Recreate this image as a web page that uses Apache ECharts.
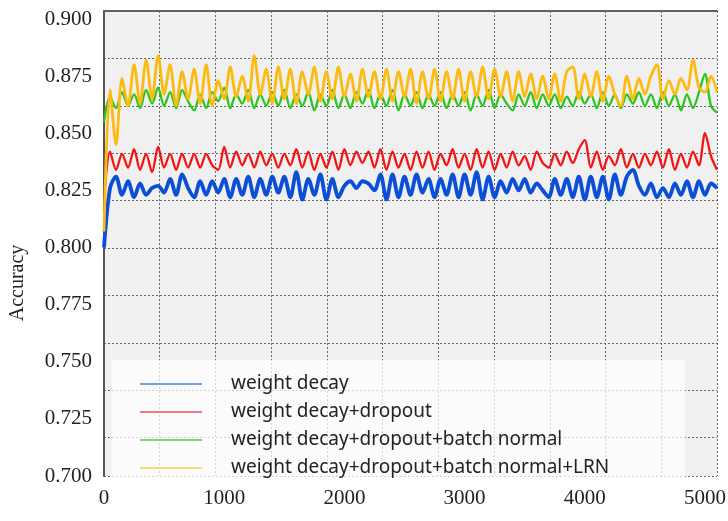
<!DOCTYPE html>
<html>
<head>
<meta charset="utf-8">
<script src="https://cdn.jsdelivr.net/npm/echarts@6/dist/echarts.min.js"></script>
<style>
  html, body { margin: 0; padding: 0; background: #fff; }
  #main { width: 728px; height: 521px; }
</style>
</head>
<body>
<div id="main"></div>
<script>
// iterations, one point every 50
var iters = []
for (var i = 0; i <= 5100; i += 50) iters.push(i)

var xTicks = [0, 1000, 2000, 3000, 4000, 5000]
var yTicks = [0.700, 0.725, 0.750, 0.775, 0.800, 0.825, 0.850, 0.875, 0.900]

var names = [
  'weight decay',
  'weight decay+dropout',
  'weight decay+dropout+batch normal',
  'weight decay+dropout+batch normal+LRN'
]

var wd = [
  0.800, 0.826, 0.831, 0.823, 0.829, 0.822, 0.828, 0.823, 0.826, 0.827, 0.824, 0.830, 0.823, 0.832, 0.826,
  0.822, 0.829, 0.823, 0.829, 0.824, 0.830, 0.822, 0.830, 0.823, 0.831, 0.822, 0.830, 0.823, 0.831,
  0.824, 0.831, 0.822, 0.833, 0.821, 0.830, 0.823, 0.832, 0.821, 0.830, 0.822, 0.827, 0.829, 0.826, 0.829,
  0.828, 0.825, 0.832, 0.821, 0.832, 0.822, 0.831, 0.823, 0.832, 0.824, 0.830, 0.822, 0.830, 0.823, 0.832,
  0.822, 0.832, 0.823, 0.833, 0.821, 0.831, 0.822, 0.829, 0.824, 0.830, 0.825, 0.830, 0.824, 0.828, 0.825,
  0.822, 0.830, 0.823, 0.830, 0.822, 0.831, 0.821, 0.831, 0.822, 0.831, 0.821, 0.832, 0.823, 0.831,
  0.834, 0.827, 0.823, 0.828, 0.822, 0.826, 0.822, 0.828, 0.823, 0.829, 0.822, 0.829, 0.823, 0.828, 0.826
]
var wdDrop = [
  0.822, 0.842, 0.834, 0.841, 0.835, 0.843, 0.834, 0.841, 0.833, 0.844, 0.835, 0.841, 0.834, 0.841, 0.835,
  0.841, 0.835, 0.841, 0.836, 0.834, 0.844, 0.835, 0.842, 0.836, 0.841, 0.835, 0.842, 0.836, 0.841,
  0.835, 0.841, 0.836, 0.843, 0.835, 0.842, 0.834, 0.841, 0.835, 0.842, 0.834, 0.843, 0.836, 0.842, 0.837,
  0.842, 0.835, 0.843, 0.834, 0.842, 0.835, 0.841, 0.834, 0.842, 0.835, 0.842, 0.834, 0.841, 0.836, 0.843,
  0.835, 0.841, 0.834, 0.843, 0.835, 0.842, 0.834, 0.841, 0.835, 0.842, 0.836, 0.840, 0.834, 0.842, 0.837,
  0.835, 0.841, 0.836, 0.842, 0.837, 0.843, 0.847, 0.835, 0.842, 0.834, 0.840, 0.836, 0.843, 0.835,
  0.841, 0.835, 0.841, 0.836, 0.842, 0.835, 0.843, 0.834, 0.841, 0.835, 0.842, 0.836, 0.850, 0.840, 0.834
]
var wdDropBn = [
  0.855, 0.866, 0.861, 0.868, 0.862, 0.867, 0.861, 0.869, 0.863, 0.870, 0.862, 0.868, 0.861, 0.869, 0.864,
  0.860, 0.867, 0.861, 0.868, 0.864, 0.870, 0.861, 0.867, 0.863, 0.869, 0.861, 0.867, 0.862, 0.868,
  0.862, 0.869, 0.861, 0.867, 0.862, 0.868, 0.860, 0.867, 0.862, 0.869, 0.861, 0.867, 0.861, 0.868, 0.863,
  0.869, 0.861, 0.867, 0.862, 0.869, 0.860, 0.867, 0.862, 0.868, 0.861, 0.867, 0.862, 0.868, 0.861, 0.867,
  0.862, 0.868, 0.860, 0.867, 0.862, 0.869, 0.861, 0.867, 0.863, 0.860, 0.867, 0.862, 0.868, 0.861, 0.867,
  0.862, 0.867, 0.861, 0.866, 0.862, 0.868, 0.863, 0.867, 0.861, 0.868, 0.862, 0.867, 0.861, 0.867,
  0.863, 0.868, 0.862, 0.867, 0.861, 0.868, 0.862, 0.867, 0.860, 0.867, 0.861, 0.868, 0.876, 0.862, 0.859
]
var wdDropBnLrn = [
  0.807, 0.869, 0.845, 0.874, 0.862, 0.880, 0.863, 0.882, 0.865, 0.884, 0.867, 0.880, 0.862, 0.877, 0.865,
  0.878, 0.863, 0.880, 0.862, 0.873, 0.865, 0.879, 0.866, 0.875, 0.864, 0.884, 0.867, 0.878, 0.863,
  0.879, 0.865, 0.878, 0.863, 0.877, 0.867, 0.879, 0.864, 0.877, 0.865, 0.879, 0.866, 0.876, 0.864, 0.878,
  0.866, 0.877, 0.865, 0.878, 0.864, 0.877, 0.866, 0.878, 0.863, 0.877, 0.865, 0.878, 0.864, 0.877, 0.865,
  0.878, 0.864, 0.877, 0.866, 0.879, 0.865, 0.878, 0.866, 0.877, 0.864, 0.877, 0.866, 0.876, 0.865, 0.875,
  0.865, 0.876, 0.864, 0.877, 0.879, 0.865, 0.876, 0.866, 0.877, 0.864, 0.875, 0.867, 0.862, 0.875,
  0.865, 0.874, 0.867, 0.875, 0.880, 0.865, 0.873, 0.867, 0.874, 0.869, 0.882, 0.870, 0.868, 0.875, 0.868
]

var lineColors = ['#0b4fd6', '#f41414', '#2ec41e', '#fdbb12']
var legendColors = ['#7c9ee6', '#f27a86', '#86d17c', '#f9dc7a']
var lineWidths = [3.8, 2.3, 2.3, 2.8]

function pairs(vals) {
  return vals.map(function (v, i) { return [iters[i], v] })
}

var chart = echarts.init(document.getElementById('main'))

var serif = 'Liberation Serif'
chart.setOption({
  animation: false,
  grid: {
    left: 104, right: 11, top: 11, bottom: 45,
    show: true,
    backgroundColor: '#f0f0f0',
    borderWidth: 0,
    outerBoundsMode: 'none'
  },
  legend: {
    orient: 'vertical',
    left: 112, top: 360,
    padding: [14, 76, 2, 28],
    backgroundColor: 'rgba(255,255,255,0.72)',
    icon: 'rect',
    itemWidth: 62, itemHeight: 2,
    itemGap: 8,
    textStyle: {
      fontFamily: 'Noto Sans', fontSize: 19, color: '#222',
      lineHeight: 20, padding: [0, 0, 0, 24]
    },
    data: names.map(function (n, i) {
      return { name: n, itemStyle: { color: legendColors[i] } }
    })
  },
  graphic: [{
    type: 'text',
    x: 18, y: 283,
    rotation: Math.PI / 2,
    style: {
      text: 'Accuracy',
      font: '20px "Liberation Serif"',
      fill: '#222',
      align: 'center',
      verticalAlign: 'middle'
    }
  }],
  xAxis: [{
    type: 'value',
    min: 0, max: 5100, interval: 1000,
    axisLine: { lineStyle: { color: '#555', width: 2 } },
    axisTick: { show: false },
    splitLine: { show: false },
    axisLabel: {
      fontFamily: serif, fontSize: 21, color: '#222', margin: 12,
      formatter: function (v) { return xTicks.indexOf(v) >= 0 ? String(v) : '' }
    }
  }, {
    // dotted grid, 11 columns
    type: 'value', position: 'top',
    min: 0, max: 11, interval: 1,
    axisLine: { show: true, lineStyle: { color: '#666', width: 1.5 } },
    axisTick: { show: false }, axisLabel: { show: false },
    splitLine: { lineStyle: { color: '#666', type: [2, 2], width: 1 } }
  }],
  yAxis: [{
    type: 'value',
    min: 0.7, max: 0.9035, interval: 0.025,
    axisLine: { show: true, lineStyle: { color: '#555', width: 2 } },
    axisTick: { show: false },
    splitLine: { show: false },
    axisLabel: {
      fontFamily: serif, fontSize: 21, color: '#222', margin: 12,
      formatter: function (v) {
        for (var k = 0; k < yTicks.length; k++) {
          if (Math.abs(yTicks[k] - v) < 1e-6) return yTicks[k].toFixed(3)
        }
        return ''
      }
    }
  }, {
    // dotted grid rows from the top
    type: 'value', inverse: true,
    min: 0, max: 9.81, interval: 1,
    axisLine: { show: false }, axisTick: { show: false }, axisLabel: { show: false },
    splitLine: { lineStyle: { color: '#666', type: [2, 2], width: 1 } }
  }],
  series: [wd, wdDrop, wdDropBn, wdDropBnLrn].map(function (vals, i) {
    return {
      name: names[i],
      type: 'line',
      xAxisIndex: 0, yAxisIndex: 0,
      data: pairs(vals),
      smooth: 0.3,
      symbol: 'none',
      lineStyle: { color: lineColors[i], width: lineWidths[i] },
      itemStyle: { color: lineColors[i] },
      z: 3 + i
    }
  })
})
</script>
</body>
</html>
